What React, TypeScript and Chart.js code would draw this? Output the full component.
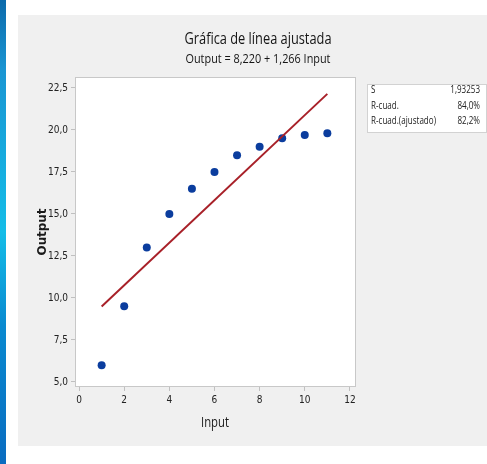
import React, { useEffect, useRef } from "react";
import { Chart, registerables } from "chart.js";

Chart.register(...registerables);

const inputs = [1, 2, 3, 4, 5, 6, 7, 8, 9, 10, 11];
const outputs = [6.0, 9.5, 13.0, 15.0, 16.5, 17.5, 18.5, 19.0, 19.5, 19.7, 19.8];
const fitInputs = [1, 11];
const fitOutputs = [9.486, 22.146];
const xTicks = [0, 2, 4, 6, 8, 10, 12];
const yTicks = [5, 7.5, 10, 12.5, 15, 17.5, 20, 22.5];
const statLabels = ["S", "R-cuad.", "R-cuad.(ajustado)"];
const statValues = ["1,93253", "84,0%", "82,2%"];
const titleText = "Gráfica de línea ajustada";
const subtitleText = "Output = 8,220 + 1,266 Input";
const xTitle = "Input";
const yTitle = "Output";

const NARROW = "'Liberation Sans Narrow', 'DejaVu Sans Condensed', sans-serif";

function fitText(
  ctx: CanvasRenderingContext2D,
  text: string,
  x: number,
  y: number,
  font: string,
  color: string,
  targetW: number | null,
  align: CanvasTextAlign = "center",
  rotate = 0,
  scaleX: number | null = null
) {
  ctx.save();
  ctx.font = font;
  ctx.fillStyle = color;
  ctx.textBaseline = "middle";
  ctx.textAlign = align;
  const w = ctx.measureText(text).width;
  const sx = scaleX != null ? scaleX : targetW ? targetW / w : 1;
  ctx.translate(x, y);
  if (rotate) ctx.rotate(rotate);
  ctx.scale(sx, 1);
  ctx.fillText(text, 0, 0);
  ctx.restore();
}

const decorPlugin = {
  id: "decor",
  beforeDraw(chart: any) {
    const ctx: CanvasRenderingContext2D = chart.ctx;
    const { left, right, top, bottom } = chart.chartArea;
    const W = chart.width;
    const H = chart.height;
    ctx.save();
    ctx.fillStyle = "#ffffff";
    ctx.fillRect(0, 0, W, H);
    const g = ctx.createLinearGradient(0, 0, 0, H);
    g.addColorStop(0, "#0c6aab");
    g.addColorStop(0.15, "#1a95d2");
    g.addColorStop(0.5, "#14bde8");
    g.addColorStop(0.7, "#0a8ad0");
    g.addColorStop(1, "#0a6cc0");
    ctx.fillStyle = g;
    ctx.fillRect(0, 0, 6, H);
    ctx.fillStyle = "#f0f0f0";
    ctx.fillRect(18, 15, W - 18, 431);
    ctx.fillStyle = "#ffffff";
    ctx.fillRect(left, top, right - left, bottom - top);
    ctx.fillStyle = "#ffffff";
    ctx.fillRect(367, 84, 120, 49);
    ctx.strokeStyle = "#d2d2d2";
    ctx.lineWidth = 1;
    ctx.strokeRect(367.5, 84.5, 119, 48);
    ctx.restore();
  },
  afterDraw(chart: any) {
    const ctx: CanvasRenderingContext2D = chart.ctx;
    const { left, right, top, bottom } = chart.chartArea;
    ctx.save();
    ctx.strokeStyle = "#c8c8c8";
    ctx.lineWidth = 1;
    ctx.strokeRect(left + 0.5, top + 0.5, right - left - 1, bottom - top - 1);
    ctx.restore();
    fitText(ctx, titleText, 258, 39, "16px 'Open Sans', sans-serif", "#151515", 147);
    fitText(ctx, subtitleText, 258, 59, "13px 'Open Sans', sans-serif", "#151515", 145);
    fitText(ctx, xTitle, 215, 423, "15px 'Open Sans', sans-serif", "#1a1a1a", 28);
    fitText(ctx, yTitle, 43, 232, "bold 12px 'DejaVu Sans', sans-serif", "#1a1a1a", 47, "center", -Math.PI / 2);
    const statFont = "11px 'Open Sans', sans-serif";
    ctx.save();
    ctx.font = statFont;
    const sx = 65 / ctx.measureText(statLabels[2]).width;
    ctx.restore();
    const rows = [90, 106, 121];
    statLabels.forEach((t, i) => {
      fitText(ctx, t, 371, rows[i], statFont, "#222", null, "left", 0, sx);
      fitText(ctx, statValues[i], 480, rows[i], statFont, "#222", null, "right", 0, sx);
    });
  },
};

export default function App() {
  const ref = useRef<HTMLCanvasElement | null>(null);
  useEffect(() => {
    if (!ref.current) return;
    const chart = new Chart(ref.current, {
      type: "scatter",
      data: {
        datasets: [
          {
            label: "Fit",
            data: fitInputs.map((x, i) => ({ x, y: fitOutputs[i] })),
            showLine: true,
            borderColor: "#a82028",
            borderWidth: 2,
            pointRadius: 0,
            order: 0,
          } as any,
          {
            label: "Data",
            data: inputs.map((x, i) => ({ x, y: outputs[i] })),
            backgroundColor: "#0b3d9e",
            borderWidth: 0,
            pointRadius: 4,
            order: 1,
          },
        ],
      },
      options: {
        animation: false,
        responsive: false,
        layout: { padding: { left: 0, top: 77, right: 131, bottom: 0 } },
        plugins: { legend: { display: false }, tooltip: { enabled: false } },
        scales: {
          x: {
            type: "linear",
            min: -0.18,
            max: 12.27,
            afterBuildTicks: (s: any) => {
              s.ticks = xTicks.map((v) => ({ value: v }));
            },
            afterFit: (s: any) => {
              s.height = 77;
            },
            ticks: {
              font: { size: 10, family: NARROW },
              color: "#222",
              padding: 3,
              callback: (v: any) => String(v),
            },
            grid: { drawOnChartArea: false, drawTicks: true, tickLength: 4, color: "#c0c0c0" },
            border: { display: false },
          },
          y: {
            type: "linear",
            min: 4.7,
            max: 23.15,
            afterBuildTicks: (s: any) => {
              s.ticks = yTicks.map((v) => ({ value: v }));
            },
            afterFit: (s: any) => {
              s.width = 75;
            },
            ticks: {
              font: { size: 10, family: NARROW },
              color: "#222",
              padding: 3,
              callback: (v: any) => Number(v).toFixed(1).replace(".", ","),
            },
            grid: { drawOnChartArea: false, drawTicks: true, tickLength: 4, color: "#c0c0c0" },
            border: { display: false },
          },
        },
      },
      plugins: [decorPlugin],
    });
    return () => chart.destroy();
  }, []);
  return (
    <div style={{ position: "absolute", left: 0, top: 0, width: 487, height: 464 }}>
      <canvas ref={ref} width={487} height={464} style={{ display: "block" }} />
    </div>
  );
}
